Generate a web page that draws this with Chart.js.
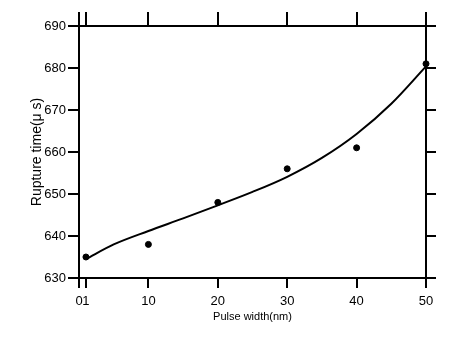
<!DOCTYPE html>
<html>
<head>
<meta charset="utf-8">
<script src="https://cdn.jsdelivr.net/npm/chart.js@4/dist/chart.umd.min.js"></script>
<style>
  html, body { margin: 0; padding: 0; background: #fff; }
  canvas { display: block; }
</style>
</head>
<body>
<canvas id="ruptureChart" width="471" height="346"></canvas>
<script>
// measured points
const pulseWidth = [1, 10, 20, 30, 40, 50];
const ruptureTime = [635, 638, 648, 656, 661, 681];

// fitted curve
const fitX = [1, 5, 10, 15, 20, 25, 30, 35, 40, 45, 50];
const fitY = [634.5, 638.0, 641.2, 644.2, 647.3, 650.5, 654.1, 658.6, 664.3, 671.5, 680.4];

const xTicks = [0, 1, 10, 20, 30, 40, 50];
const yTicks = [630, 640, 650, 660, 670, 680, 690];

const fontFamily = "'Liberation Sans', Arial, sans-serif";

function toPoints(xs, ys) {
    return xs.map((x, i) => ({ x: x, y: ys[i] }));
}

function setTicks(values) {
    return function(scale) {
        scale.ticks = values.map(v => ({ value: v }));
    };
}

const axisBase = {
    border: { display: true, color: '#000', width: 2 },
    grid: { drawOnChartArea: false, color: '#000', lineWidth: 2, tickLength: 10 }
};

const canvas = document.getElementById('ruptureChart');
const chart = new Chart(canvas, {
    type: 'scatter',
    data: {
        datasets: [{
            data: toPoints(pulseWidth, ruptureTime),
            backgroundColor: '#000',
            borderColor: '#000',
            pointRadius: 3,
            pointHoverRadius: 3,
            clip: false
        }, {
            data: toPoints(fitX, fitY),
            showLine: true,
            borderColor: '#000',
            borderWidth: 2,
            pointRadius: 0,
            cubicInterpolationMode: 'monotone',
            clip: false
        }]
    },
    options: {
        responsive: false,
        animation: false,
        devicePixelRatio: 1,
        layout: { padding: 0 },
        plugins: { legend: { display: false }, tooltip: { enabled: false } },
        scales: {
            x: {
                ...axisBase,
                type: 'linear', position: 'bottom', min: 0, max: 50,
                afterBuildTicks: setTicks(xTicks),
                afterFit: s => { s.height = 68; },
                ticks: { autoSkip: false, maxRotation: 0, color: '#000', padding: 6,
                         font: { family: fontFamily, size: 13 } },
                title: { display: true, text: 'Pulse width(nm)', color: '#000',
                         font: { family: fontFamily, size: 11 }, padding: { top: 0, bottom: 22 } }
            },
            x2: {
                ...axisBase,
                grid: { ...axisBase.grid, tickLength: 14 },
                type: 'linear', position: 'top', min: 0, max: 50,
                afterBuildTicks: setTicks(xTicks),
                afterFit: s => { s.height = 26; },
                ticks: { display: false }
            },
            y: {
                ...axisBase,
                grid: { ...axisBase.grid, tickLength: 11 },
                type: 'linear', position: 'left', min: 630, max: 690,
                afterBuildTicks: setTicks(yTicks),
                afterFit: s => { s.width = 79; },
                ticks: { color: '#000', padding: 2, font: { family: fontFamily, size: 13 } },
                title: { display: true, text: 'Rupture time(μ s)', color: '#000',
                         font: { family: fontFamily, size: 14 }, padding: { top: 29, bottom: 0 } }
            },
            y2: {
                ...axisBase,
                type: 'linear', position: 'right', min: 630, max: 690,
                afterBuildTicks: setTicks(yTicks),
                afterFit: s => { s.width = 45; },
                ticks: { display: false }
            }
        }
    }
});
</script>
</body>
</html>
